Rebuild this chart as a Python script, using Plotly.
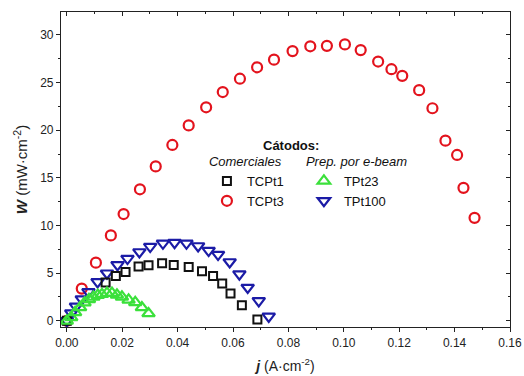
import plotly.graph_objects as go

# ---- data ----
j_tcpt3 = [0.0, 0.0054, 0.0105, 0.0159, 0.0205, 0.0264, 0.0321, 0.0381, 0.0440, 0.0503,
           0.0563, 0.0625, 0.0687, 0.0748, 0.0815, 0.0879, 0.0939, 0.1004, 0.1061,
           0.1124, 0.1172, 0.1211, 0.1272, 0.1320, 0.1367, 0.1409, 0.1432, 0.1472]
w_tcpt3 = [0.0, 3.38, 6.10, 8.96, 11.2, 13.8, 16.2, 18.45, 20.5, 22.4,
           24.0, 25.4, 26.6, 27.4, 28.3, 28.8, 28.85, 29.0, 28.4,
           27.2, 26.4, 25.7, 24.2, 22.3, 18.9, 17.4, 13.95, 10.8]

j_tcpt1 = [0.0, 0.0140, 0.0177, 0.0212, 0.0259, 0.0295, 0.0344, 0.0386, 0.0440,
           0.0488, 0.0528, 0.0561, 0.0591, 0.0632, 0.0688]
w_tcpt1 = [0.0, 4.02, 4.71, 5.13, 5.69, 5.83, 6.04, 5.86, 5.65,
           5.20, 4.71, 3.91, 2.87, 1.64, 0.15]

j_tpt100 = [0.0, 0.0016, 0.0033, 0.0054, 0.0078, 0.0111, 0.0145, 0.0183, 0.0219, 0.0262,
            0.0301, 0.0347, 0.0389, 0.0432, 0.0474, 0.0512, 0.0546, 0.0588, 0.0623,
            0.0653, 0.0693, 0.0729]
w_tpt100 = [0.0, 0.81, 1.51, 2.27, 3.03, 4.08, 4.99, 5.86, 6.53, 7.22,
            7.79, 8.13, 8.20, 8.13, 7.85, 7.37, 6.95, 6.17, 4.89,
            3.49, 2.09, 0.46]

j_tpt23 = [0.0, 0.0016, 0.0030, 0.0048, 0.0064, 0.0080, 0.0096, 0.0112, 0.0127, 0.0145,
           0.0163, 0.0181, 0.0199, 0.0223, 0.0247, 0.0271, 0.0295]
w_tpt23 = [0.0, 0.36, 0.88, 1.40, 1.90, 2.25, 2.50, 2.70, 2.79, 2.90,
           2.90, 2.72, 2.51, 2.20, 1.93, 1.40, 0.77]

x_ticks = [0.00, 0.02, 0.04, 0.06, 0.08, 0.10, 0.12, 0.14, 0.16]
x_ticklabels = ["0.00", "0.02", "0.04", "0.06", "0.08", "0.10", "0.12", "0.14", "0.16"]
y_ticks = [0, 5, 10, 15, 20, 25, 30]

RED = "#e3131d"
BLACK = "#111111"
GREEN = "#3be03b"
BLUE = "#1b1ba6"
FONT = "Liberation Sans, Arial, sans-serif"

fig = go.Figure()

fig.add_trace(go.Scatter(x=j_tcpt3, y=w_tcpt3, mode="markers", name="TCPt3",
                         legend="legend", legendrank=2,
                         marker=dict(symbol="circle-open", size=10, color=RED, line=dict(width=2.2, color=RED))))
fig.add_trace(go.Scatter(x=j_tpt100, y=w_tpt100, mode="markers", name="TPt100",
                         legend="legend2", legendrank=4,
                         marker=dict(symbol="triangle-down-open", size=11, color=BLUE, line=dict(width=2.2, color=BLUE))))
fig.add_trace(go.Scatter(x=j_tcpt1, y=w_tcpt1, mode="markers", name="TCPt1",
                         legend="legend", legendrank=1,
                         marker=dict(symbol="square-open", size=8, color=BLACK, line=dict(width=2, color=BLACK))))
fig.add_trace(go.Scatter(x=j_tpt23, y=w_tpt23, mode="markers", name="TPt23",
                         legend="legend2", legendrank=3,
                         marker=dict(symbol="triangle-up-open", size=11, color=GREEN, line=dict(width=2.2, color=GREEN))))

xr = [-0.0021, 0.16]
yr = [-0.65, 32.4]

fig.update_layout(
    width=524, height=376,
    margin=dict(l=61, r=14, t=12, b=49),
    paper_bgcolor="white", plot_bgcolor="white",
    font=dict(family=FONT, size=12, color="#222222"),
    xaxis=dict(range=xr, tickvals=x_ticks, ticktext=x_ticklabels, showgrid=False, zeroline=False,
               automargin=False,
               showline=True, linecolor="#222222", linewidth=1.2, mirror=True,
               ticks="outside", ticklen=4, tickcolor="#222222",
               minor=dict(ticks="outside", ticklen=2, dtick=0.01, tickcolor="#222222"),
               tickfont=dict(size=12),
               title=dict(text="<b><i>j</i></b> (A·cm<sup>-2</sup>)", font=dict(size=14), standoff=12)),
    yaxis=dict(range=yr, tickvals=y_ticks, showgrid=False, zeroline=False,
               automargin=False,
               showline=True, linecolor="#222222", linewidth=1.2, mirror=True,
               ticks="outside", ticklen=4, tickcolor="#222222",
               minor=dict(ticks="outside", ticklen=2, dtick=2.5, tickcolor="#222222"),
               tickfont=dict(size=12),
               title=dict(text="<b><i>W</i></b> (mW·cm<sup>-2</sup>)", font=dict(size=15), standoff=8)),
    xaxis2=dict(range=xr, overlaying="x", side="top", tickvals=x_ticks, showticklabels=False,
                automargin=False,
                showgrid=False, zeroline=False, ticks="inside", ticklen=4, tickcolor="#222222",
                minor=dict(ticks="inside", ticklen=2, dtick=0.01, tickcolor="#222222")),
    yaxis2=dict(range=yr, overlaying="y", side="right", tickvals=y_ticks, showticklabels=False,
                automargin=False,
                showgrid=False, zeroline=False, ticks="inside", ticklen=4, tickcolor="#222222",
                minor=dict(ticks="inside", ticklen=2, dtick=2.5, tickcolor="#222222")),
    legend=dict(x=0.325, y=0.565, xanchor="left", yanchor="top", bgcolor="rgba(0,0,0,0)",
                font=dict(size=13, color="#111111"), tracegroupgap=0,
                title=dict(text="<i>Comerciales</i>", font=dict(size=13, color="#111111"), side="top")),
    legend2=dict(x=0.541, y=0.565, xanchor="left", yanchor="top", bgcolor="rgba(0,0,0,0)",
                 font=dict(size=13, color="#111111"), tracegroupgap=0,
                 title=dict(text="<i>Prep. por e-beam</i>", font=dict(size=13, color="#111111"), side="top")),
    annotations=[dict(text="<b>Cátodos:</b>", x=0.512, y=0.575, xref="paper", yref="paper",
                      xanchor="center", yanchor="middle", showarrow=False,
                      font=dict(size=13, color="#111111"))],
)

# invisible trace so the mirrored top/right axes are drawn
fig.add_trace(go.Scatter(x=[None], y=[None], xaxis="x2", yaxis="y2", showlegend=False, hoverinfo="skip"))

fig.write_html("out.html")
